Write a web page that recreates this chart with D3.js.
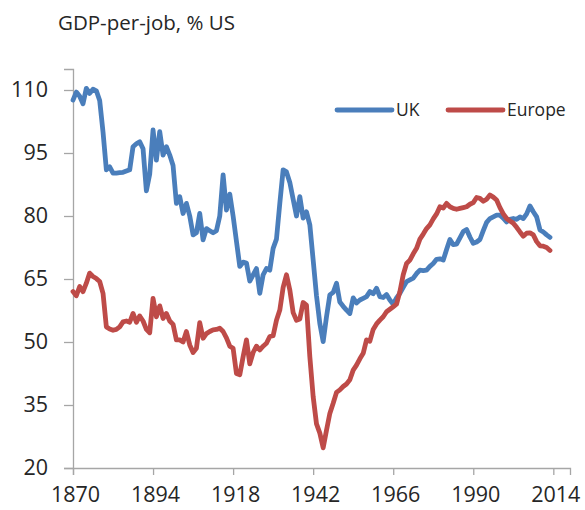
<!DOCTYPE html>
<html>
<head>
<meta charset="utf-8">
<script src="https://cdn.jsdelivr.net/npm/d3@7"></script>
<style>
  html, body { margin: 0; padding: 0; background: #fff; }
  svg text { font-family: "Open Sans", "Noto Sans", sans-serif; fill: #262626; }
</style>
</head>
<body>
<div id="chart"></div>
<script>
// years 1870..2013, one value per year
const startYear = 1870;

const ukValues = [
  107.6, 109.5, 108.5, 106.7, 110.4, 109.2, 110.2, 109.8, 107.5, 100,
  91, 91.7, 90.2, 90.2, 90.3, 90.4, 90.7, 91, 96.5, 97.2,
  97.7, 96, 86, 90, 100.5, 93.3, 100.1, 94.5, 96.5, 94.5,
  92, 83, 84.6, 80.6, 83, 80, 75.5, 76, 80.6, 74.3,
  77, 76.5, 76, 76.5, 80, 89.8, 81.4, 85.2, 80, 74,
  68, 69, 68.8, 64.5, 66, 67.5, 61.6, 66, 67.5, 67.1,
  72.3, 74.5, 83, 91, 90.5, 88, 84, 80, 84.6, 79.5,
  81, 77.9, 69.5, 61, 54.4, 50.1, 56, 61.2, 61.8, 64,
  59.5, 58.5, 57.6, 56.8, 60.5, 59.3, 60, 60.4, 60.8, 62,
  61.5, 62.8, 60.8, 60.6, 61.3, 60, 59, 60.5, 61.6, 63,
  64.4, 64.8, 65.2, 66.3, 67.1, 67, 67.1, 68, 68.7, 69.7,
  69.8, 69.5, 72, 74.4, 73.2, 73.3, 74.8, 76.3, 76.8, 75,
  73.5, 73.8, 74.4, 76.5, 78.5, 79.4, 79.8, 80.2, 80.2, 79.5,
  78.6, 79.2, 79.4, 79.2, 79.8, 79.4, 80.5, 82.4, 81, 79.8,
  76.7, 76.2, 75.5, 74.9
];

const europeValues = [
  62, 61, 63.2, 62, 64, 66.4, 65.6, 65.1, 64.4, 61.6,
  53.6, 53.1, 52.8, 53, 53.6, 54.8, 55, 54.7, 56.8, 54.7,
  56.2, 55, 53, 52.2, 60.4, 56, 58.6, 55.6, 56.8, 55,
  54.2, 50.5, 50.5, 50, 52.5, 49.3, 47.5, 48.5, 54.6, 50.9,
  52, 52.5, 52.9, 53, 53.3, 52.5, 51, 49, 48.5, 42.5,
  42.2, 46.5, 50.5, 44.8, 47.5, 49, 48.1, 49, 49.7, 51.3,
  51.5, 55.2, 57.6, 63, 66, 62.4, 57, 55.2, 55.5, 59.4,
  58.8, 46.5, 37, 30.5, 28.3, 24.8, 29, 33, 35.4, 38,
  38.6, 39.4, 40, 41, 43.3, 44.5, 46, 47.3, 50.5, 50.2,
  53, 54.3, 55.2, 56, 57.2, 57.8, 58.4, 59, 62, 66,
  68.7, 69.5, 71, 72.3, 74.5, 75.7, 77, 77.9, 79.3, 80.5,
  82.2, 81.9, 83, 82.2, 81.8, 81.6, 81.8, 82, 82.2, 82.8,
  83.2, 84.4, 84.2, 83.5, 84, 85, 84.5, 83.8, 82, 80.5,
  79.4, 78.8, 78.3, 77.3, 76.2, 75.2, 75.9, 76, 75.5, 73.9,
  72.9, 72.8, 72.5, 71.8
];

const xTicks = [1870, 1894, 1918, 1942, 1966, 1990, 2014];
const yTicks = [20, 35, 50, 65, 80, 95, 110];

const seriesNames = ["UK", "Europe"];
const seriesColors = ["#4a7ebb", "#be4b48"];

const width = 585;
const height = 510;
const margin = { top: 69, right: 15, bottom: 42, left: 73 };

const svg = d3.select('#chart')
  .append('svg')
  .attr('width', width)
  .attr('height', height);

const x = d3.scaleLinear()
  .domain([1870, 2019])
  .range([margin.left, width - margin.right]);

const y = d3.scaleLinear()
  .domain([20, 115])
  .range([height - margin.bottom, margin.top]);

const axisColor = '#a6a6a6';
const tickFont = 21.5;

// Y axis
const yAxis = svg.append('g')
  .attr('transform', `translate(${margin.left},0)`)
  .call(d3.axisLeft(y).tickValues(yTicks).tickSize(9).tickPadding(16));
yAxis.select('.domain').attr('stroke', axisColor).attr('stroke-width', 1.3);
yAxis.selectAll('.tick line').attr('stroke', axisColor).attr('stroke-width', 1.3);
yAxis.selectAll('.tick text')
  .attr('font-size', tickFont)
  .attr('fill', '#262626')
  .style('font-family', '"Open Sans", "Noto Sans", sans-serif');

// X axis
const xAxis = svg.append('g')
  .attr('transform', `translate(0,${height - margin.bottom})`)
  .call(d3.axisBottom(x).tickValues(xTicks).tickFormat(d3.format('d')).tickSize(7).tickPadding(12));
xAxis.select('.domain').attr('stroke', axisColor).attr('stroke-width', 1.3);
xAxis.selectAll('.tick line').attr('stroke', axisColor).attr('stroke-width', 1.3);
xAxis.selectAll('.tick text')
  .attr('font-size', tickFont)
  .attr('fill', '#262626')
  .attr('dx', 2)
  .style('font-family', '"Open Sans", "Noto Sans", sans-serif');

// Lines
const line = d3.line()
  .x((d, i) => x(startYear + i))
  .y(d => y(d));

[ukValues, europeValues].forEach((vals, k) => {
  svg.append('path')
    .datum(vals)
    .attr('fill', 'none')
    .attr('stroke', seriesColors[k])
    .attr('stroke-width', 4.8)
    .attr('stroke-linejoin', 'round')
    .attr('stroke-linecap', 'round')
    .attr('d', line);
});

// Legend
const legend = svg.append('g');
const legendX = [337, 448];
const legendY = 110;
seriesNames.forEach((name, k) => {
  legend.append('line')
    .attr('x1', legendX[k])
    .attr('x2', legendX[k] + 55)
    .attr('y1', legendY)
    .attr('y2', legendY)
    .attr('stroke', seriesColors[k])
    .attr('stroke-width', 4.8)
    .attr('stroke-linecap', 'round');
  legend.append('text')
    .attr('x', legendX[k] + 59)
    .attr('y', legendY)
    .attr('dy', '0.35em')
    .attr('font-size', 17.5)
    .text(name);
});

// Title
svg.append('text')
  .attr('x', 58)
  .attr('y', 30)
  .attr('font-size', 20.5)
  .text('GDP-per-job, % US');
</script>
</body>
</html>
